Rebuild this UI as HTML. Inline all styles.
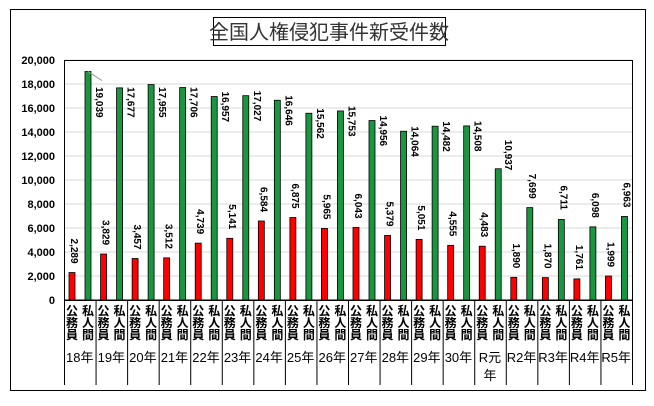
<!DOCTYPE html>
<html><head><meta charset="utf-8"><style>
body{margin:0;background:#fff;}
svg text{font-family:"Liberation Sans","Noto Sans CJK JP",sans-serif;}
</style></head><body>
<svg id="chart" width="654" height="401" xmlns="http://www.w3.org/2000/svg">
<rect x="10.5" y="9.5" width="635" height="381" fill="#fff" stroke="#000" stroke-width="1"/>
<rect x="213.5" y="17.5" width="232" height="28" fill="#fff" stroke="#000"/>
<text x="329" y="39" text-anchor="middle" font-size="20" fill="#333">全国人権侵犯事件新受件数</text>
<g id="grid"></g><g id="bars"></g><g id="labels"></g><g id="axis"></g>
</svg>
<script>
const years=["18年","19年","20年","21年","22年","23年","24年","25年","26年","27年","28年","29年","30年","R元年","R2年","R3年","R4年","R5年"];
const officials=[2289,3829,3457,3512,4739,5141,6584,6875,5965,6043,5379,5051,4555,4483,1890,1870,1761,1999];
const privates=[19039,17677,17955,17706,16957,17027,16646,15562,15753,14956,14064,14482,14508,10937,7699,6711,6098,6963];
const yTicks=[0,2000,4000,6000,8000,10000,12000,14000,16000,18000,20000];
const L=64,R=632,T=60,B=300,YMAX=20000;
const gw=(R-L)/years.length;
const y=v=>B-(v/YMAX)*(B-T);
const NS="http://www.w3.org/2000/svg";
function mk(tag,attrs,parent){const e=document.createElementNS(NS,tag);for(const k in attrs)e.setAttribute(k,attrs[k]);document.getElementById(parent).appendChild(e);return e;}
yTicks.forEach(t=>{
 const g=mk('line',{x1:L,x2:R,y1:y(t),y2:y(t),stroke:t===0?'#000':'#d9d9d9','stroke-width':1},'grid');
 
 
 const tx=mk('text',{x:55,y:y(t)+4,'text-anchor':'end','font-size':11,'font-weight':'bold'},'axis');
 tx.textContent=t.toLocaleString('en-US');
 
 
});
const pa=mk('rect',{x:L+0.5,y:T+0.5,width:R-L,height:B-T,fill:'none',stroke:'#000'},'grid');


function label(v,cx,top,mode,parent){
 let x,ys;
 const w=v>=10000?31:26;
 if(mode===2){x=cx+12;ys=Math.max(87,top-5);}
 else if(mode===1){x=cx+11;ys=top-29;}
 else{x=cx+3;ys=top-8-w;}
 const t=mk('text',{x:0,y:0,'font-size':10,'font-weight':'bold',transform:`translate(${x-4},${ys}) rotate(90)`},parent);
 t.textContent=v.toLocaleString('en-US');
 return t;
}
years.forEach((yr,i)=>{
 const gx=L+i*gw;
 const r=mk('rect',{x:gx+5,y:y(officials[i]),width:6,height:B-y(officials[i]),fill:'#ff0000',stroke:'#000','stroke-width':0.8},'bars');
 
 
 const g=mk('rect',{x:gx+21,y:y(privates[i]),width:6,height:B-y(privates[i]),fill:'#1a9641',stroke:'#000','stroke-width':0.8},'bars');
 
 
 const l1=label(officials[i],gx+8,y(officials[i]),0,'labels');
 
 
 const mode=privates[i]>14000?2:(privates[i]>10000?1:0);
 const l2=label(privates[i],gx+24,y(privates[i]),mode,'labels');
 
 
 const sep=mk('line',{x1:gx+0.5,x2:gx+0.5,y1:B,y2:385,stroke:'#000'},'axis');
 
 
 [["公","務","員"],["私","人","間"]].forEach((chars,j)=>{
  chars.forEach((c,k)=>{
   const t=mk('text',{x:gx+8+j*16,y:315+k*12,'text-anchor':'middle','font-size':12,'font-weight':'bold'},'axis');
   t.textContent=c;
   
   
  });
 });
 if(yr==="R元年"){
  const a=mk('text',{x:gx+gw/2,y:362,'text-anchor':'middle','font-size':13},'axis');a.textContent="R元";
  
  
  const b=mk('text',{x:gx+gw/2,y:380,'text-anchor':'middle','font-size':13},'axis');b.textContent="年";
  
  
 }else{
  const a=mk('text',{x:gx+gw/2,y:362,'text-anchor':'middle','font-size':13},'axis');a.textContent=yr;
  
  
 }
});
const last=mk('line',{x1:R+0.5,x2:R+0.5,y1:B,y2:385,stroke:'#000'},'axis');


const lead=mk('line',{x1:L+24,x2:L+38,y1:y(privates[0]),y2:y(privates[0])+9,stroke:'#999'},'labels');


</script>
</body></html>
